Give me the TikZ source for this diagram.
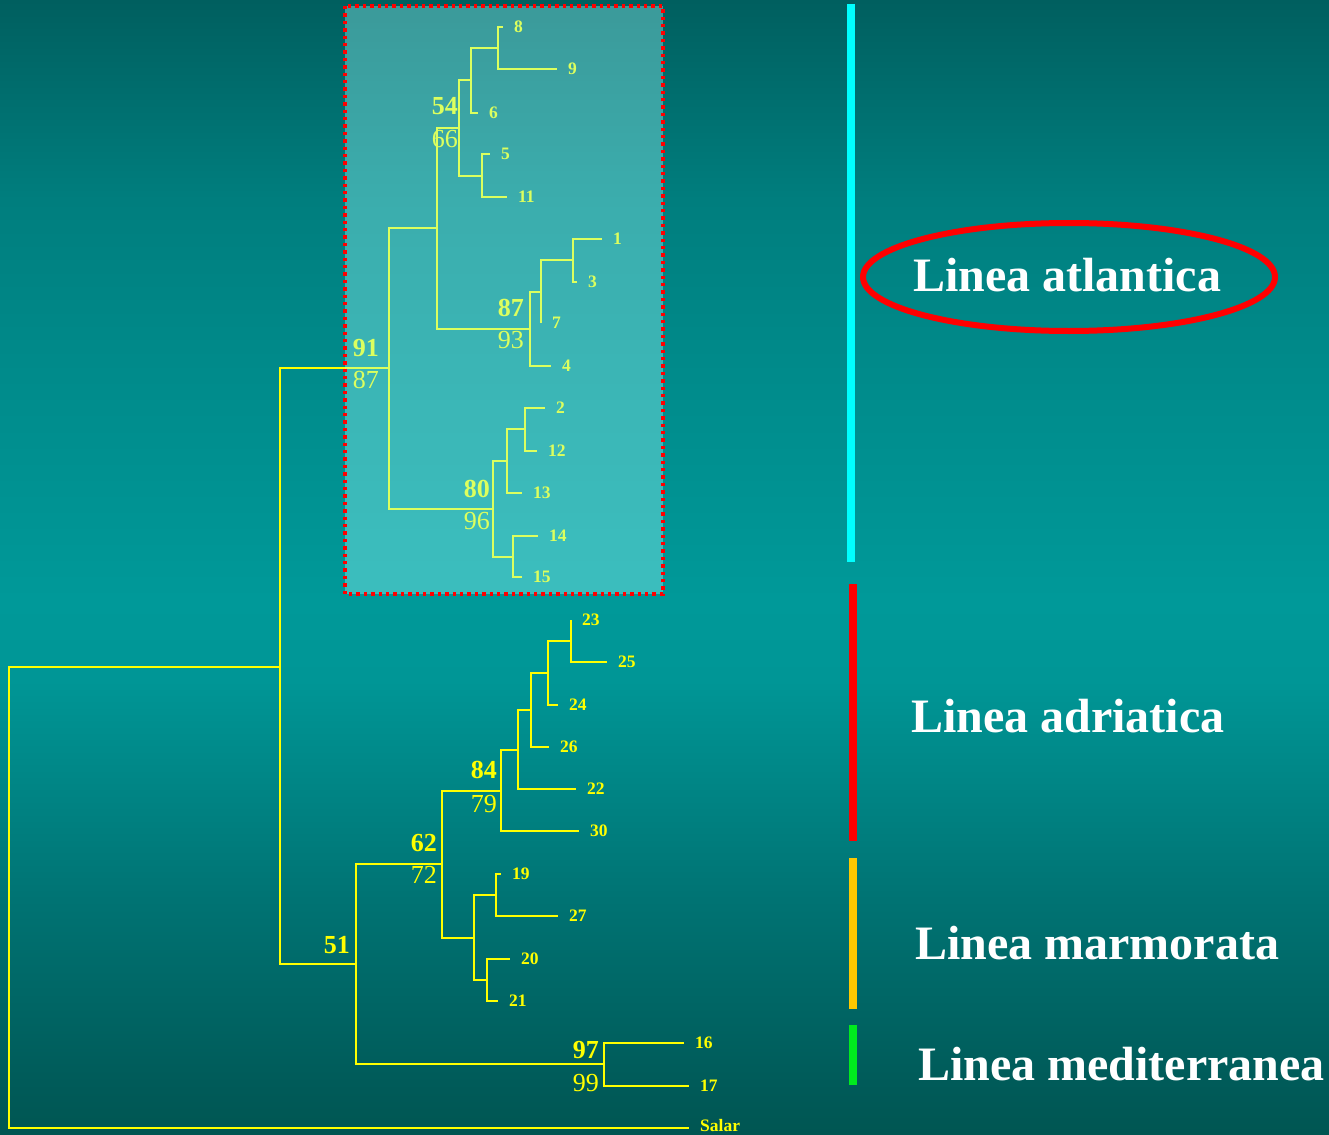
\documentclass[tikz,border=0pt]{standalone}
\usepackage{fontspec}
\setmainfont{Liberation Serif}
\usetikzlibrary{positioning}
\definecolor{teal0}{RGB}{0,86,82}
\definecolor{teal1}{RGB}{0,90,88}
\definecolor{teal2}{RGB}{0,115,115}
\definecolor{teal3}{RGB}{0,150,150}
\definecolor{teal4}{RGB}{0,153,153}
\definecolor{teal5}{RGB}{0,138,138}
\definecolor{teal6}{RGB}{0,126,126}
\definecolor{teal7}{RGB}{0,95,95}
\pgfdeclareverticalshading{backdrop}{100bp}{color(0bp)=(teal0); color(25bp)=(teal0); color(26.94bp)=(teal1); color(35.32bp)=(teal2); color(45.02bp)=(teal3); color(48.54bp)=(teal4); color(59.13bp)=(teal5); color(66.18bp)=(teal6); color(75bp)=(teal7); color(100bp)=(teal7)}
\definecolor{treeyellow}{RGB}{255,255,0}
\definecolor{glow}{RGB}{162,255,255}
\definecolor{atlcyan}{RGB}{0,255,255}
\definecolor{adrred}{RGB}{255,0,0}
\definecolor{marmo}{RGB}{255,200,0}
\definecolor{medgreen}{RGB}{0,235,30}
\tikzstyle{branch} = [draw=treeyellow, line width=1.4pt]
\tikzstyle{leaf} = [text=treeyellow, font=\fontsize{17.5}{20}\selectfont\bfseries, inner sep=0pt]
\tikzstyle{boot} = [text=treeyellow, font=\fontsize{26}{30}\selectfont\bfseries, inner sep=0pt, anchor=base east]
\tikzstyle{bootlow} = [text=treeyellow, font=\fontsize{26}{30}\selectfont, inner sep=0pt, anchor=base east]
\tikzstyle{lineage} = [text=white, font=\fontsize{48}{56}\selectfont\bfseries, inner sep=0pt, anchor=base west]
\tikzstyle{lbar} = [line width=8pt]
\begin{document}
\begin{tikzpicture}[x=1pt, y=-1pt]

\useasboundingbox (0,0) rectangle (1329,1134);
\shade[shading=backdrop] (0,0) rectangle (1329,1134);

% inner nodes
\coordinate (root) at (9,897);
\coordinate (nIn) at (280,667);
\coordinate (n91) at (389,368);
\coordinate (nA) at (437,228);
\coordinate (n54) at (459,128);
\coordinate (nB) at (471,80);
\coordinate (nD) at (498,48);
\coordinate (nC) at (482,176);
\coordinate (n87) at (530,329);
\coordinate (nE) at (541,292);
\coordinate (nF) at (573,260);
\coordinate (n80) at (493,509);
\coordinate (nG) at (507,461);
\coordinate (nI) at (525,429);
\coordinate (nH) at (513,557);
\coordinate (n51) at (356,964);
\coordinate (n62) at (442,864);
\coordinate (n84) at (501,791);
\coordinate (nK) at (518,750);
\coordinate (nL) at (531,710);
\coordinate (nM) at (548,673);
\coordinate (nN) at (571,641);
\coordinate (nJ) at (474,938);
\coordinate (nO) at (496,895);
\coordinate (nP) at (487,980);
\coordinate (n97) at (604,1064);

% leaf tips
\coordinate (l8) at (503,27);
\coordinate (l9) at (557,69);
\coordinate (l6) at (478,113);
\coordinate (l5) at (490,154);
\coordinate (l11) at (507,197);
\coordinate (l1) at (602,239);
\coordinate (l3) at (577,282);
\coordinate (l7) at (541,323);
\coordinate (l4) at (551,366);
\coordinate (l2) at (545,408);
\coordinate (l12) at (537,451);
\coordinate (l13) at (522,493);
\coordinate (l14) at (538,536);
\coordinate (l15) at (522,577);
\coordinate (l23) at (571,620);
\coordinate (l25) at (607,662);
\coordinate (l24) at (558,705);
\coordinate (l26) at (549,747);
\coordinate (l22) at (576,789);
\coordinate (l30) at (579,831);
\coordinate (l19) at (501,874);
\coordinate (l27) at (558,916);
\coordinate (l20) at (510,959);
\coordinate (l21) at (498,1001);
\coordinate (l16) at (684,1043);
\coordinate (l17) at (689,1086);
\coordinate (lsal) at (689,1128);

% branches
\draw[branch] (root) |- (nIn) (root) |- (lsal);
\draw[branch] (nIn) |- (n91) (nIn) |- (n51);
\draw[branch] (n91) |- (nA) (n91) |- (n80);
\draw[branch] (nA) |- (n54) (nA) |- (n87);
\draw[branch] (n54) |- (nB) (n54) |- (nC);
\draw[branch] (nB) |- (nD) (nB) |- (l6);
\draw[branch] (nD) |- (l8) (nD) |- (l9);
\draw[branch] (nC) |- (l5) (nC) |- (l11);
\draw[branch] (n87) |- (nE) (n87) |- (l4);
\draw[branch] (nE) |- (nF) (nE) |- (l7);
\draw[branch] (nF) |- (l1) (nF) |- (l3);
\draw[branch] (n80) |- (nG) (n80) |- (nH);
\draw[branch] (nG) |- (nI) (nG) |- (l13);
\draw[branch] (nI) |- (l2) (nI) |- (l12);
\draw[branch] (nH) |- (l14) (nH) |- (l15);
\draw[branch] (n51) |- (n62) (n51) |- (n97);
\draw[branch] (n62) |- (n84) (n62) |- (nJ);
\draw[branch] (n84) |- (nK) (n84) |- (l30);
\draw[branch] (nK) |- (nL) (nK) |- (l22);
\draw[branch] (nL) |- (nM) (nL) |- (l26);
\draw[branch] (nM) |- (nN) (nM) |- (l24);
\draw[branch] (nN) |- (l23) (nN) |- (l25);
\draw[branch] (nJ) |- (nO) (nJ) |- (nP);
\draw[branch] (nO) |- (l19) (nO) |- (l27);
\draw[branch] (nP) |- (l20) (nP) |- (l21);
\draw[branch] (n97) |- (l16) (n97) |- (l17);

% leaf labels
\node[leaf, right=11pt of l8] (t8) {8};
\node[leaf, right=11pt of l9] (t9) {9};
\node[leaf, right=11pt of l6] (t6) {6};
\node[leaf, right=11pt of l5] (t5) {5};
\node[leaf, right=11pt of l11] (t11) {11};
\node[leaf, right=11pt of l1] (t1) {1};
\node[leaf, right=11pt of l3] (t3) {3};
\node[leaf, right=11pt of l7] (t7) {7};
\node[leaf, right=11pt of l4] (t4) {4};
\node[leaf, right=11pt of l2] (t2) {2};
\node[leaf, right=11pt of l12] (t12) {12};
\node[leaf, right=11pt of l13] (t13) {13};
\node[leaf, right=11pt of l14] (t14) {14};
\node[leaf, right=11pt of l15] (t15) {15};
\node[leaf, right=11pt of l23] (t23) {23};
\node[leaf, right=11pt of l25] (t25) {25};
\node[leaf, right=11pt of l24] (t24) {24};
\node[leaf, right=11pt of l26] (t26) {26};
\node[leaf, right=11pt of l22] (t22) {22};
\node[leaf, right=11pt of l30] (t30) {30};
\node[leaf, right=11pt of l19] (t19) {19};
\node[leaf, right=11pt of l27] (t27) {27};
\node[leaf, right=11pt of l20] (t20) {20};
\node[leaf, right=11pt of l21] (t21) {21};
\node[leaf, right=11pt of l16] (t16) {16};
\node[leaf, right=11pt of l17] (t17) {17};
\node[leaf, right=11pt of lsal, yshift=3pt] (tsal) {Salar};

% support values
\node[boot] (b54) at (458,115) {54};
\node[bootlow] (c54) at (458,148) {66};
\node[boot] (b91) at (379,356) {91};
\node[bootlow] (c91) at (379,388) {87};
\node[boot] (b87) at (524,316) {87};
\node[bootlow] (c87) at (524,348) {93};
\node[boot] (b80) at (490,497) {80};
\node[bootlow] (c80) at (490,529) {96};
\node[boot] (b84) at (497,778) {84};
\node[bootlow] (c84) at (497,812) {79};
\node[boot] (b62) at (437,851) {62};
\node[bootlow] (c62) at (437,883) {72};
\node[boot] (b51) at (350,953) {51};
\node[boot] (b97) at (599,1058) {97};
\node[bootlow] (c97) at (599,1091) {99};

% highlighted clade
\fill[glow, fill opacity=0.37] (345,6) rectangle (663,594);
\draw[adrred, line width=3.4pt, dash pattern=on 3.4pt off 4pt] (345,6) rectangle (663,594);

% lineage bars
\draw[lbar, atlcyan] (851,4) -- (851,562);
\draw[lbar, adrred] (853,584) -- (853,841);
\draw[lbar, marmo] (853,858) -- (853,1009);
\draw[lbar, medgreen] (853,1025) -- (853,1085);

\node[lineage] (atl) at (913,291) {Linea atlantica};
\node[lineage] (adr) at (911,732) {Linea adriatica};
\node[lineage] (mar) at (915,959) {Linea marmorata};
\node[lineage] (med) at (918,1080) {Linea mediterranea};
\draw[adrred, line width=6pt] (1069,277) ellipse [x radius=206pt, y radius=54pt];
\end{tikzpicture}
\end{document}
